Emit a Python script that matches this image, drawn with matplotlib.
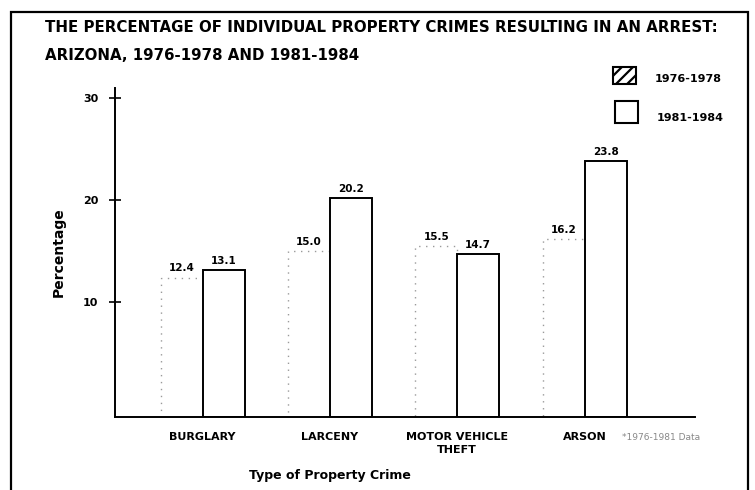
import matplotlib
matplotlib.use("Agg")
import matplotlib.pyplot as plt
import numpy as np
from matplotlib.patches import Rectangle

# data
crimes = ['BURGLARY', 'LARCENY', 'MOTOR VEHICLE\nTHEFT', 'ARSON']
early = [12.4, 15.0, 15.5, 16.2]     # 1976-1978
late = [13.1, 20.2, 14.7, 23.8]      # 1981-1984
yticks = [10, 20, 30]

plt.rcParams['font.family'] = ['DejaVu Sans']
plt.rcParams['hatch.linewidth'] = 1.6

fig = plt.figure(figsize=(7.55, 4.9), dpi=100)
ax = fig.add_axes([0.152, 0.149, 0.769, 0.671])

# outer page frame
fig.patches.append(Rectangle((0.014, -0.01), 0.977, 0.985, transform=fig.transFigure,
                             fill=False, edgecolor='black', linewidth=1.6))

y0 = -1.3  # the axis line sits a little below zero in the original
x = np.arange(len(crimes))
w = 0.33
ax.bar(x - w / 2, np.array(early) - y0, w, bottom=y0, facecolor='white',
       edgecolor='#9a9a9a', linestyle=(0, (1, 4)), linewidth=1.0)
ax.bar(x + w / 2, np.array(late) - y0, w, bottom=y0, facecolor='white',
       edgecolor='black', linewidth=1.4)

for xi, v in zip(x, early):
    ax.text(xi - w / 2, v + 0.4, f'{v:.1f}', ha='center', va='bottom',
            fontsize=7.5, fontweight='bold')
for xi, v in zip(x, late):
    ax.text(xi + w / 2, v + 0.4, f'{v:.1f}', ha='center', va='bottom',
            fontsize=7.5, fontweight='bold')

ax.set_xlim(-0.69, 3.87)
ax.set_ylim(y0, 31)
ax.spines['top'].set_visible(False)
ax.spines['right'].set_visible(False)
ax.spines['left'].set_linewidth(1.4)
ax.spines['bottom'].set_linewidth(1.4)
ax.set_yticks(yticks)
ax.set_yticklabels([str(t) for t in yticks], fontsize=8, fontweight='bold')
ax.tick_params(axis='y', direction='inout', length=8, width=1.2, pad=8)
ax.set_xticks(x)
ax.set_xticklabels(crimes, fontsize=8, fontweight='bold', linespacing=1.35)
ax.tick_params(axis='x', length=0, pad=11)

ax.set_ylabel('Percentage', fontsize=10, fontweight='bold', labelpad=12)
fig.text(0.437, 0.029, 'Type of Property Crime', fontsize=9, fontweight='bold',
         ha='center', va='center')

fig.text(0.06, 0.944, 'THE PERCENTAGE OF INDIVIDUAL PROPERTY CRIMES RESULTING IN AN ARREST:',
         fontsize=10.8, fontweight='bold', va='center')
fig.text(0.06, 0.886, 'ARIZONA, 1976-1978 AND 1981-1984',
         fontsize=10.8, fontweight='bold', va='center')

# legend drawn as boxes like the original
fig.patches.append(Rectangle((0.812, 0.828), 0.030, 0.036, transform=fig.transFigure,
                             facecolor='white', edgecolor='black', hatch='///', linewidth=1.5))
fig.patches.append(Rectangle((0.815, 0.749), 0.030, 0.044, transform=fig.transFigure,
                             facecolor='white', edgecolor='black', linewidth=1.5))
fig.text(0.867, 0.838, '1976-1978', fontsize=8, fontweight='bold', va='center')
fig.text(0.870, 0.759, '1981-1984', fontsize=8, fontweight='bold', va='center')

fig.text(0.824, 0.108, '*1976-1981 Data', fontsize=6.5, color='#888888', va='center')

fig.savefig('out.png', dpi=100)
